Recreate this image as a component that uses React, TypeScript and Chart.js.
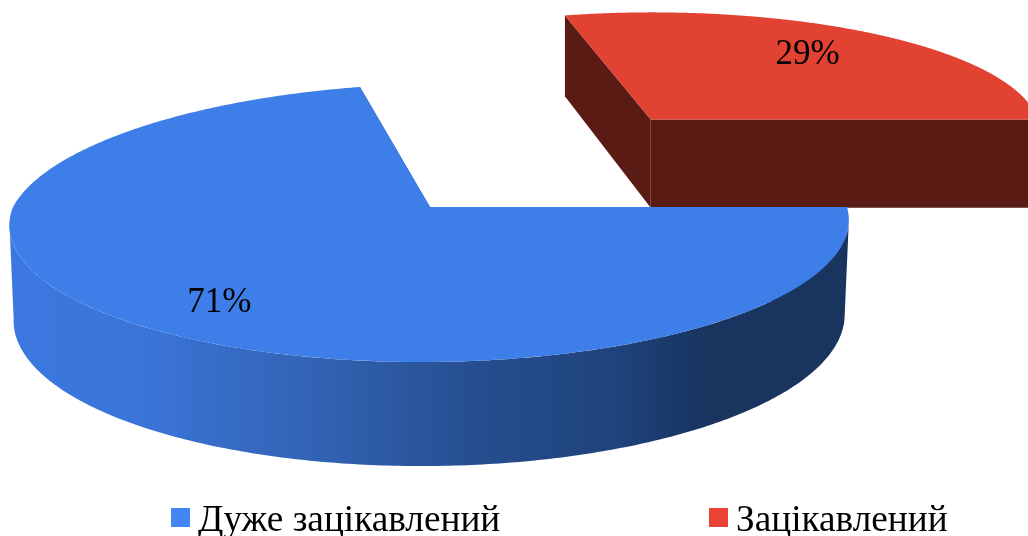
import React, { useEffect, useRef } from "react";
import { Chart, registerables } from "chart.js";

Chart.register(...registerables);

const categories = ["Дуже зацікавлений", "Зацікавлений"];
const shares = [71, 29];
const shareLabels = ["71%", "29%"];

const TOP_COLORS = ["#3d7ee8", "#e24232"];
const WALL_COLORS = ["#3d7ee8", "#5a1b14"];
const LEGEND_COLORS = ["#4285f4", "#ea4335"];
const EXPLODE_U = [0, 0.526];
const EXPLODE_V = [0, 0.685];
const LOW_SHRINK = [0.01, 0];
const LABEL_RADIUS = [0.8, 0.7];
const LABEL_NUDGE = [[15, 2], [-1, -3]];
const LEGEND_BOX_X = [171, 709];
const LEGEND_TEXT_X = [198, 736];
const FONT = '"Liberation Serif", "Times New Roman", serif';

// perspective view of the pie plane
const CX = 430, CY = 207, R = 417, S = 137.5, K = 0.113, SKEW = 26.9, SKEW_FRONT = 8, DEPTH = 94.9;

function project(u: number, v: number, low: boolean, shrink: number) {
  const w = 1 + K * v + (low ? 0.01 : 0);
  const xw = 1 + K * v + (low ? shrink : 0);
  return {
    x: CX + (R * u + (v > 0 ? SKEW : SKEW_FRONT) * v) / xw,
    y: CY + (-S * v + (low ? DEPTH : 0)) / w,
  };
}

const perspectivePie = {
  id: "perspectivePie",
  beforeDatasetsDraw(chart: any) {
    const ctx: CanvasRenderingContext2D = chart.ctx;
    const arcs = chart.getDatasetMeta(0).data;
    const order = [1, 0];
    const sil = Math.asin(K);
    ctx.save();
    for (const i of order) {
      const arc = arcs[i];
      const a0 = arc.startAngle, a1 = arc.endAngle;
      const pt = (a: number, low: boolean, r = 1) =>
        project(r * Math.cos(a) + EXPLODE_U[i], -r * Math.sin(a) + EXPLODE_V[i], low, LOW_SHRINK[i]);

      let wall: any = WALL_COLORS[i];
      if (i === 0) {
        const g = ctx.createLinearGradient(10, 0, 849, 0);
        g.addColorStop(0, "#3b78e0");
        g.addColorStop(0.17, "#3a74d6");
        g.addColorStop(0.38, "#3161b0");
        g.addColorStop(0.55, "#254f90");
        g.addColorStop(0.72, "#1f437c");
        g.addColorStop(0.83, "#18345f");
        g.addColorStop(1, "#18345f");
        wall = g;
      }
      ctx.fillStyle = wall;

      // cut sides
      for (const a of [a0, a1]) {
        const c0 = pt(a, false, 0), c1 = pt(a, false), c2 = pt(a, true), c3 = pt(a, true, 0);
        ctx.beginPath();
        ctx.moveTo(c0.x, c0.y);
        ctx.lineTo(c1.x, c1.y);
        ctx.lineTo(c2.x, c2.y);
        ctx.lineTo(c3.x, c3.y);
        ctx.closePath();
        ctx.fill();
      }
      // rim
      const from = Math.max(a0, sil), to = Math.min(a1, Math.PI - sil);
      if (to > from) {
        const n = 240;
        ctx.beginPath();
        for (let s = 0; s <= n; s++) {
          const p = pt(from + ((to - from) * s) / n, false);
          s ? ctx.lineTo(p.x, p.y) : ctx.moveTo(p.x, p.y);
        }
        for (let s = n; s >= 0; s--) {
          const p = pt(from + ((to - from) * s) / n, true);
          ctx.lineTo(p.x, p.y);
        }
        ctx.closePath();
        ctx.fill();
      }
      // top face
      ctx.fillStyle = TOP_COLORS[i];
      ctx.beginPath();
      const c = pt(a0, false, 0);
      ctx.moveTo(c.x, c.y);
      const steps = 360;
      for (let s = 0; s <= steps; s++) {
        const p = pt(a0 + ((a1 - a0) * s) / steps, false);
        ctx.lineTo(p.x, p.y);
      }
      ctx.closePath();
      ctx.fill();
    }
    // value labels
    ctx.fillStyle = "#000000";
    ctx.font = `35px ${FONT}`;
    ctx.textAlign = "center";
    ctx.textBaseline = "middle";
    arcs.forEach((arc: any, i: number) => {
      const mid = (arc.startAngle + arc.endAngle) / 2;
      const p = project(
        LABEL_RADIUS[i] * Math.cos(mid) + EXPLODE_U[i],
        -LABEL_RADIUS[i] * Math.sin(mid) + EXPLODE_V[i],
        false,
        0
      );
      ctx.fillText(shareLabels[i], p.x + LABEL_NUDGE[i][0], p.y + LABEL_NUDGE[i][1]);
    });
    // legend
    ctx.font = `37.25px ${FONT}`;
    ctx.textAlign = "left";
    ctx.textBaseline = "alphabetic";
    categories.forEach((name, i) => {
      ctx.fillStyle = LEGEND_COLORS[i];
      ctx.fillRect(LEGEND_BOX_X[i], 508, 19, 19);
      ctx.fillStyle = "#000000";
      ctx.fillText(name, LEGEND_TEXT_X[i], 531);
    });
    ctx.restore();
    return false;
  },
};

export default function App() {
  const ref = useRef<HTMLCanvasElement>(null);
  useEffect(() => {
    document.body.style.margin = "0";
    document.body.style.background = "#ffffff";
    const chart = new Chart(ref.current!, {
      type: "pie",
      data: {
        labels: categories,
        datasets: [{ data: shares, backgroundColor: TOP_COLORS, borderWidth: 0 }],
      },
      options: {
        responsive: false,
        animation: false,
        rotation: 90,
        layout: { padding: 0 },
        plugins: {
          title: { display: false },
          tooltip: { enabled: false },
          legend: { display: false },
        },
      },
      plugins: [perspectivePie],
    } as any);
    return () => chart.destroy();
  }, []);
  return <canvas ref={ref} width={1028} height={536} style={{ display: "block" }} />;
}
